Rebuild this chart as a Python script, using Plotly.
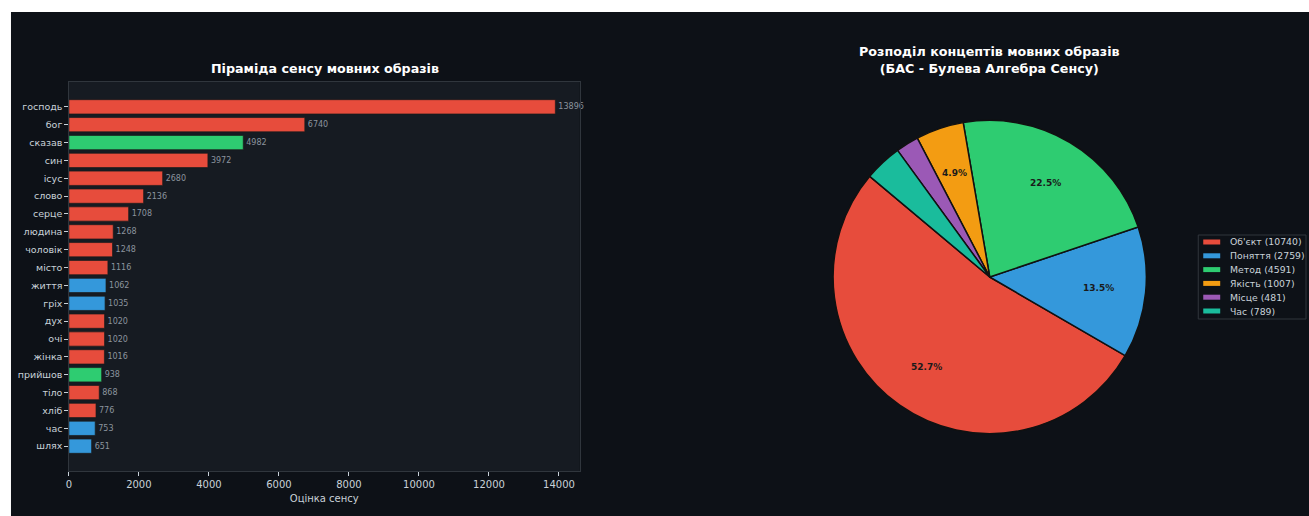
import math
import plotly.graph_objects as go

# ---------------- data ----------------
words = ["господь", "бог", "сказав", "син", "ісус", "слово", "серце", "людина", "чоловік", "місто",
         "життя", "гріх", "дух", "очі", "жінка", "прийшов", "тіло", "хліб", "час", "шлях"]
scores = [13896, 6740, 4982, 3972, 2680, 2136, 1708, 1268, 1248, 1116,
          1062, 1035, 1020, 1020, 1016, 938, 868, 776, 753, 651]
word_types = ["Об'єкт", "Об'єкт", "Метод", "Об'єкт", "Об'єкт", "Об'єкт", "Об'єкт", "Об'єкт", "Об'єкт", "Об'єкт",
              "Поняття", "Поняття", "Об'єкт", "Об'єкт", "Об'єкт", "Метод", "Об'єкт", "Об'єкт", "Поняття", "Поняття"]
x_ticks = [0, 2000, 4000, 6000, 8000, 10000, 12000, 14000]

concepts = ["Об'єкт", "Поняття", "Метод", "Якість", "Місце", "Час"]
concept_counts = [10740, 2759, 4591, 1007, 481, 789]
concept_colors = ["#e74c3c", "#3498db", "#2ecc71", "#f39c12", "#9b59b6", "#1abc9c"]

# ---------------- style / geometry ----------------
W, H = 1309, 516
BG = "#0d1117"
PLOT_BG = "#161b22"
TXT = "#c9d1d9"
FONT = "DejaVu Sans"

def px(x):   # page pixel -> paper fraction
    return x / W

def py(y):
    return 1 - y / H

color_of = dict(zip(concepts, concept_colors))
bar_colors = [color_of[t] for t in word_types]

fig = go.Figure()

fig.add_trace(go.Bar(
    x=scores, y=list(range(len(words))), orientation="h",
    width=0.8,
    marker=dict(color=bar_colors, line=dict(color="#1b1b1b", width=0.7)),
    text=[str(v) for v in scores], textposition="outside",
    textfont=dict(family=FONT, size=8, color="#8b949e"),
    cliponaxis=False, showlegend=False, hoverinfo="x+y",
))

# pie
START_DEG = 140.0
total = sum(concept_counts)
first_end = START_DEG + 360.0 * concept_counts[0] / total
fig.add_trace(go.Pie(
    labels=concepts, values=concept_counts, sort=False, direction="counterclockwise",
    rotation=90 - first_end,
    marker=dict(colors=concept_colors, line=dict(color="#111111", width=1.5)),
    textinfo="none", showlegend=False,
    domain=dict(x=[px(832), px(1146)], y=[py(434), py(120)]),
))

n = len(words)
fig.update_layout(
    width=W, height=H,
    paper_bgcolor="white", plot_bgcolor="rgba(0,0,0,0)",
    margin=dict(l=0, r=0, t=0, b=0),
    font=dict(family=FONT, color=TXT, size=10),
    xaxis=dict(domain=[px(66), px(578)], range=[0, max(scores) * 1.05],
               tickvals=x_ticks, ticktext=[str(t) for t in x_ticks], showgrid=False, zeroline=False,
               ticks="outside", ticklen=3.5, tickcolor=TXT, tickfont=dict(size=10, color=TXT),
               showline=True, linecolor="#30363d", linewidth=1, mirror=True,
               title=dict(text="Оцінка сенсу", font=dict(size=10, color=TXT), standoff=6)),
    yaxis=dict(domain=[py(471), py(82)], range=[n - 1 + 0.4 + 0.99, -0.4 - 0.99],
               tickvals=list(range(n)), ticktext=words, showgrid=False, zeroline=False,
               ticks="outside", ticklen=3.5, tickcolor=TXT, tickfont=dict(size=9.5, color=TXT),
               showline=True, linecolor="#30363d", linewidth=1, mirror=True),
    bargap=0.2,
)

shapes = [
    dict(type="rect", xref="paper", yref="paper", x0=px(8), x1=1, y0=0, y1=py(12),
         fillcolor=BG, line=dict(width=0), layer="below"),
    dict(type="rect", xref="x domain", yref="y domain", x0=0, x1=1, y0=0, y1=1,
         fillcolor=PLOT_BG, line=dict(width=0), layer="below"),
]

annotations = [
    dict(text="<b>Піраміда сенсу мовних образів</b>", x=px(323), y=py(68), xref="paper", yref="paper",
         xanchor="center", yanchor="middle", showarrow=False, font=dict(size=12.7, color="white")),
    dict(text="<b>Розподіл концептів мовних образів<br>(БАС - Булева Алгебра Сенсу)</b>",
         x=px(989), y=py(60), xref="paper", yref="paper", xanchor="center", yanchor="middle",
         showarrow=False, font=dict(size=12.7, color="white")),
]

# percentage labels on pie (matplotlib-like autopct)
PIE_CX, PIE_CY, PIE_R = 989, 277, 157
cum = 0.0
for v in concept_counts:
    frac = v / total
    mid = math.radians(START_DEG + 360 * (cum + frac / 2))
    cum += frac
    pct = 100 * frac
    if pct > 4:
        x = PIE_CX + 0.7 * PIE_R * math.cos(mid)
        y = PIE_CY - 0.7 * PIE_R * math.sin(mid)
        annotations.append(dict(text=f"<b>{pct:.1f}%</b>", x=px(x), y=py(y), xref="paper", yref="paper",
                                xanchor="center", yanchor="middle",
                                showarrow=False, font=dict(size=9, color="#1a1a1a")))

# legend box
LX0, LX1, LY0, LY1 = 1198, 1306, 235, 319
shapes.append(dict(type="rect", xref="paper", yref="paper", x0=px(LX0), x1=px(LX1), y0=py(LY1), y1=py(LY0),
                   fillcolor=BG, line=dict(color="#30363d", width=1)))
for i, (c, v, col) in enumerate(zip(concepts, concept_counts, concept_colors)):
    yc = 242 + i * 13.8
    shapes.append(dict(type="rect", xref="paper", yref="paper", x0=px(1203), x1=px(1220),
                       y0=py(yc + 2.5), y1=py(yc - 2.5), fillcolor=col, line=dict(width=0)))
    annotations.append(dict(text=f"{c} ({v})", x=px(1228), y=py(yc), xref="paper", yref="paper",
                            xanchor="left", yanchor="middle", showarrow=False,
                            font=dict(size=9.3, color=TXT)))

fig.update_layout(shapes=shapes, annotations=annotations)
fig.write_html("out.html", config={"displayModeBar": False},
               post_script="document.body.style.margin='0';document.body.style.overflow='hidden';")
